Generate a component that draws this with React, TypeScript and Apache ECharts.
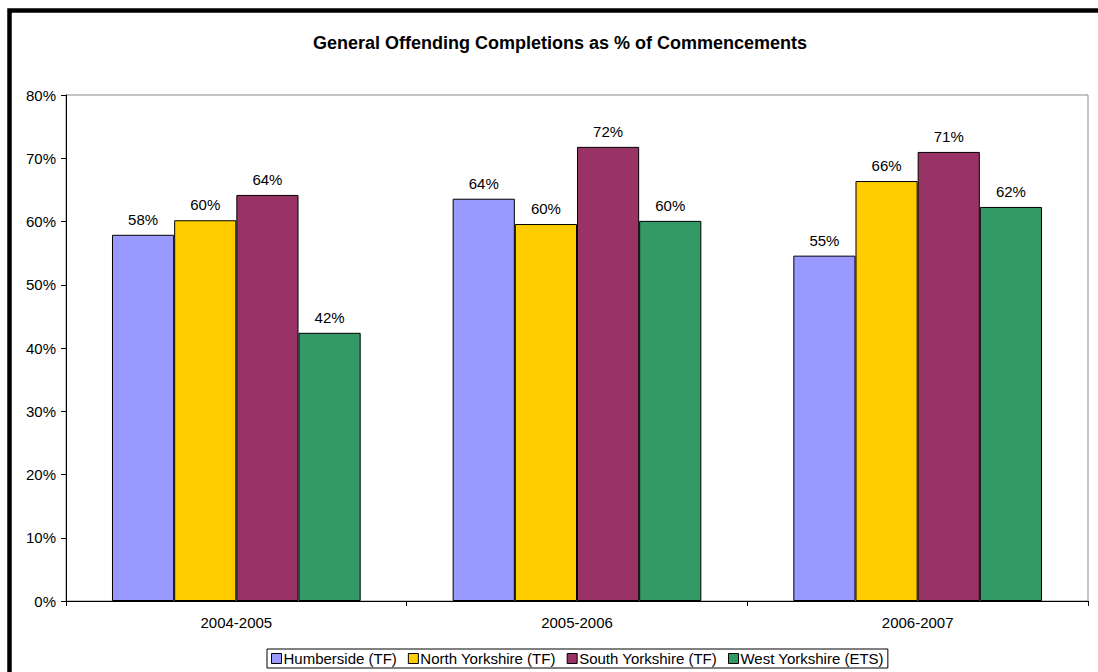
import React, { useEffect, useRef } from "react";
import * as echarts from "echarts";

const categories = ["2004-2005", "2005-2006", "2006-2007"];
const humberside = [57.9, 63.6, 54.6];
const northYorkshire = [60.2, 59.6, 66.4];
const southYorkshire = [64.2, 71.8, 71.0];
const westYorkshire = [42.4, 60.1, 62.3];
const seriesNames = [
  "Humberside (TF)",
  "North Yorkshire (TF)",
  "South Yorkshire (TF)",
  "West Yorkshire (ETS)",
];
const seriesColors = ["#9999FF", "#FFCC00", "#993366", "#339966"];

export default function App() {
  const ref = useRef<HTMLDivElement>(null);
  useEffect(() => {
    if (!ref.current) return;
    const chart = echarts.init(ref.current, undefined, { renderer: "svg" });
    const dataSets = [humberside, northYorkshire, southYorkshire, westYorkshire];
    const font = "Arial, 'Liberation Sans', sans-serif";
    chart.setOption({
      animation: false,
      backgroundColor: "#ffffff",
      textStyle: { fontFamily: font },
      title: {
        text: "General Offending Completions as % of Commencements",
        left: 308,
        top: 29,
        textStyle: { fontSize: 18, fontWeight: "bold", color: "#000", fontFamily: font },
      },
      graphic: [
        {
          type: "rect",
          shape: { x: 9.5, y: 10.5, width: 1200, height: 800 },
          style: { fill: "none", stroke: "#000", lineWidth: 4.5 },
          silent: true,
          z: 100,
        },
      ],
      legend: {
        bottom: 4,
        left: 267,
        itemWidth: 10,
        itemHeight: 10,
        itemGap: 11,
        padding: [2, 4, 2, 4],
        borderColor: "#000",
        borderWidth: 1,
        borderRadius: 0,
        icon: "rect",
        textStyle: { fontSize: 15, color: "#000", fontFamily: font, padding: [0, 0, 0, -3] },
        itemStyle: { borderColor: "#000", borderWidth: 1 },
        data: seriesNames,
      },
      grid: {
        left: 66,
        top: 95,
        right: 10,
        bottom: 71,
        show: true,
        borderColor: "#888",
        borderWidth: 1,
      },
      xAxis: {
        type: "category",
        data: categories,
        axisLine: { lineStyle: { color: "#000" } },
        axisTick: { show: true, alignWithLabel: false, length: 5, lineStyle: { color: "#000" } },
        axisLabel: { fontSize: 15, color: "#000", margin: 14, fontFamily: font },
        splitLine: { show: false },
      },
      yAxis: {
        type: "value",
        min: 0,
        max: 80,
        interval: 10,
        axisLine: { show: true, lineStyle: { color: "#000" } },
        axisTick: { show: true, length: 5, lineStyle: { color: "#000" } },
        axisLabel: { fontSize: 15, color: "#000", margin: 10, formatter: "{value}%", fontFamily: font },
        splitLine: { show: false },
      },
      series: seriesNames.map((name, i) => ({
        name,
        type: "bar",
        data: dataSets[i],
        barGap: "0%",
        barCategoryGap: "27%",
        itemStyle: { color: seriesColors[i], borderColor: "#000", borderWidth: 1 },
        label: {
          show: true,
          position: "top",
          distance: 8,
          fontSize: 15,
          color: "#000",
          fontFamily: font,
          formatter: (p: any) => Math.round(p.value) + "%",
        },
      })),
    });
    return () => chart.dispose();
  }, []);
  return (
    <div style={{ position: "absolute", left: 0, top: 0, width: 1098, height: 672 }}>
      <div ref={ref} style={{ width: 1098, height: 672 }} />
    </div>
  );
}
